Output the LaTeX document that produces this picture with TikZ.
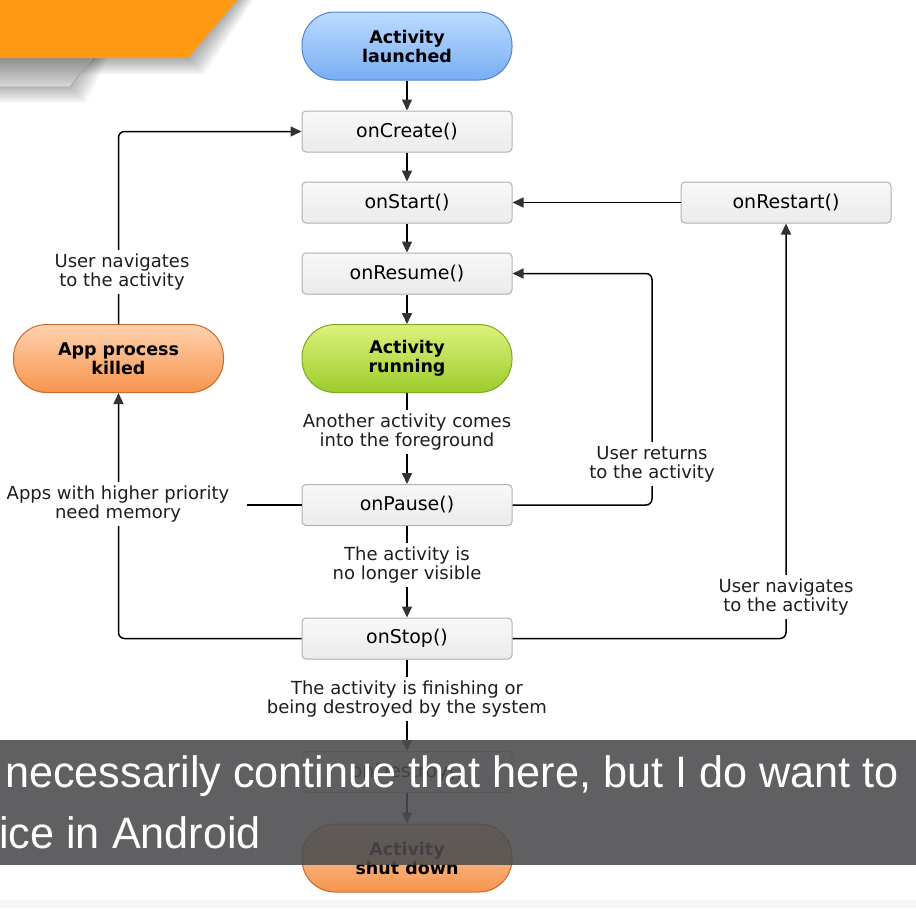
\documentclass[tikz,border=0pt]{standalone}
\usepackage{fontspec}
\setmainfont{DejaVu Sans}
\newfontfamily\subfont[FakeStretch=0.982]{Liberation Sans}
\usetikzlibrary{arrows.meta}
\definecolor{orangeTL}{HTML}{FF9A12}
\definecolor{stripTop}{HTML}{8E8E90}
\definecolor{stripBot}{HTML}{DADADA}
\definecolor{blueTop}{HTML}{BCDBFF}
\definecolor{blueBot}{HTML}{78AEF3}
\definecolor{blueLine}{HTML}{4F84D2}
\definecolor{greenTop}{HTML}{DDF27C}
\definecolor{greenBot}{HTML}{9CCC2C}
\definecolor{greenLine}{HTML}{7FA822}
\definecolor{orTop}{HTML}{FFD2AE}
\definecolor{orBot}{HTML}{F7944E}
\definecolor{orLine}{HTML}{C96A2E}
\definecolor{boxTop}{HTML}{F8F8F8}
\definecolor{boxBot}{HTML}{EBEBEB}
\definecolor{boxLine}{HTML}{B2B2B2}
\definecolor{arrowGray}{HTML}{333333}
\definecolor{labelText}{HTML}{1E1E1E}
\definecolor{bandGray}{HTML}{4A4B4D}
\begin{document}
\begin{tikzpicture}[x=1pt,y=-1pt,
  pill/.style={rounded corners=33pt, minimum width=210pt, minimum height=68pt,
    line width=1pt, align=center, inner sep=0pt,
    font=\bfseries\fontsize{17.5}{19}\selectfont},
  bluepill/.style={pill, draw=blueLine, top color=blueTop, bottom color=blueBot},
  greenpill/.style={pill, draw=greenLine, top color=greenTop, bottom color=greenBot},
  orangepill/.style={pill, draw=orLine, top color=orTop, bottom color=orBot},
  stepbox/.style={draw=boxLine, line width=1pt, rounded corners=4pt,
    top color=boxTop, bottom color=boxBot, minimum width=210pt,
    minimum height=41pt, inner sep=0pt, font=\fontsize{19}{22}\selectfont},
  lbl/.style={fill=white, align=center, inner sep=4pt, text=labelText,
    font=\fontsize{18}{19}\selectfont},
  conn/.style={line width=1.5pt, draw=black},
  arr/.style={conn, -{Triangle[width=10pt,length=11pt,color=arrowGray]}},
  subtxt/.style={text=white, inner sep=0pt, font=\subfont\fontsize{44}{50}\selectfont}
]
\useasboundingbox (0,0) rectangle (916,908);
\fill[white] (0,0) rectangle (916,908);

% top-left decoration
\foreach \s in {2,4,...,16} {
  \fill[black, opacity=0.045] (0,0) -- (237+\s,0) -- (188+\s,58+\s) -- (0,58+\s) -- cycle;
  \fill[black, opacity=0.035] (0,58) -- (92+\s,58) -- (70+\s,87+\s) -- (0,87+\s) -- cycle;
}
\shade[top color=stripTop, bottom color=stripBot] (0,58) -- (92,58) -- (70,87) -- (0,87) -- cycle;
\draw[gray!70, line width=0.8pt] (0,87) -- (70,87) -- (92,58);
\fill[orangeTL] (0,0) -- (237,0) -- (188,58) -- (0,58) -- cycle;

% nodes
\node[bluepill] (launch) at (407,46) {Activity\\launched};
\node[stepbox] (create) at (407,131.5) {onCreate()};
\node[stepbox] (start) at (407,202.5) {onStart()};
\node[stepbox] (resume) at (407,273.5) {onResume()};
\node[greenpill] (run) at (407,358.5) {Activity\\running};
\node[stepbox] (pause) at (407,505) {onPause()};
\node[stepbox] (stop) at (407,638.5) {onStop()};
\node[stepbox] (destroy) at (407,772) {onDestroy()};
\node[orangepill] (shut) at (407,858) {Activity\\shut down};
\node[stepbox] (restart) at (786,202.5) {onRestart()};
\node[orangepill] (killed) at (118.5,358.5) {App process\\killed};

\coordinate (pl) at (247,505);
\coordinate (rc) at (652,389);

% connectors
\draw[arr] (launch.south) -- (create.north);
\draw[arr] (create.south) -- (start.north);
\draw[arr] (start.south) -- (resume.north);
\draw[arr] (resume.south) -- (run.north);
\draw[arr] (run.south) -- (pause.north);
\draw[arr] (pause.south) -- (stop.north);
\draw[arr] (stop.south) -- (destroy.north);
\draw[arr] (destroy.south) -- (shut.north);
\draw[arr] (restart.west) -- (start.east);
\draw[arr, rounded corners=6pt] (killed.north) |- (create.west);
\draw[arr, rounded corners=6pt] (stop.west) -| (killed.south);
\draw[conn] (pause.west) -- (pl);
\draw[arr, rounded corners=6pt] (pause.east) -| (rc) |- (resume.east);
\draw[arr, rounded corners=6pt] (stop.east) -| (restart.south);

% labels
\node[lbl] (l4) at (122,272) {User navigates\\to the activity};
\node[lbl] (l1) at (407,432) {Another activity comes\\into the foreground};
\node[lbl] (l5) at (118,504) {Apps with higher priority\\need memory};
\node[lbl] (l6) at (652,464) {User returns\\to the activity};
\node[lbl] (l2) at (407,565) {The activity is\\no longer visible};
\node[lbl] (l7) at (786,597) {User navigates\\to the activity};
\node[lbl] (l3) at (407,699) {The activity is finishing or\\being destroyed by the system};

% bottom strip
\fill[black!4] (0,900) rectangle (916,908);

% subtitle overlay
\fill[bandGray, opacity=0.88] (0,740) rectangle (916,865);
\node[subtxt, anchor=base west] (s1) at (5,787) {necessarily continue that here, but I do want to};
\node[subtxt, anchor=base west] (s2) at (-1,848) {ice in Android};
\end{tikzpicture}
\end{document}
